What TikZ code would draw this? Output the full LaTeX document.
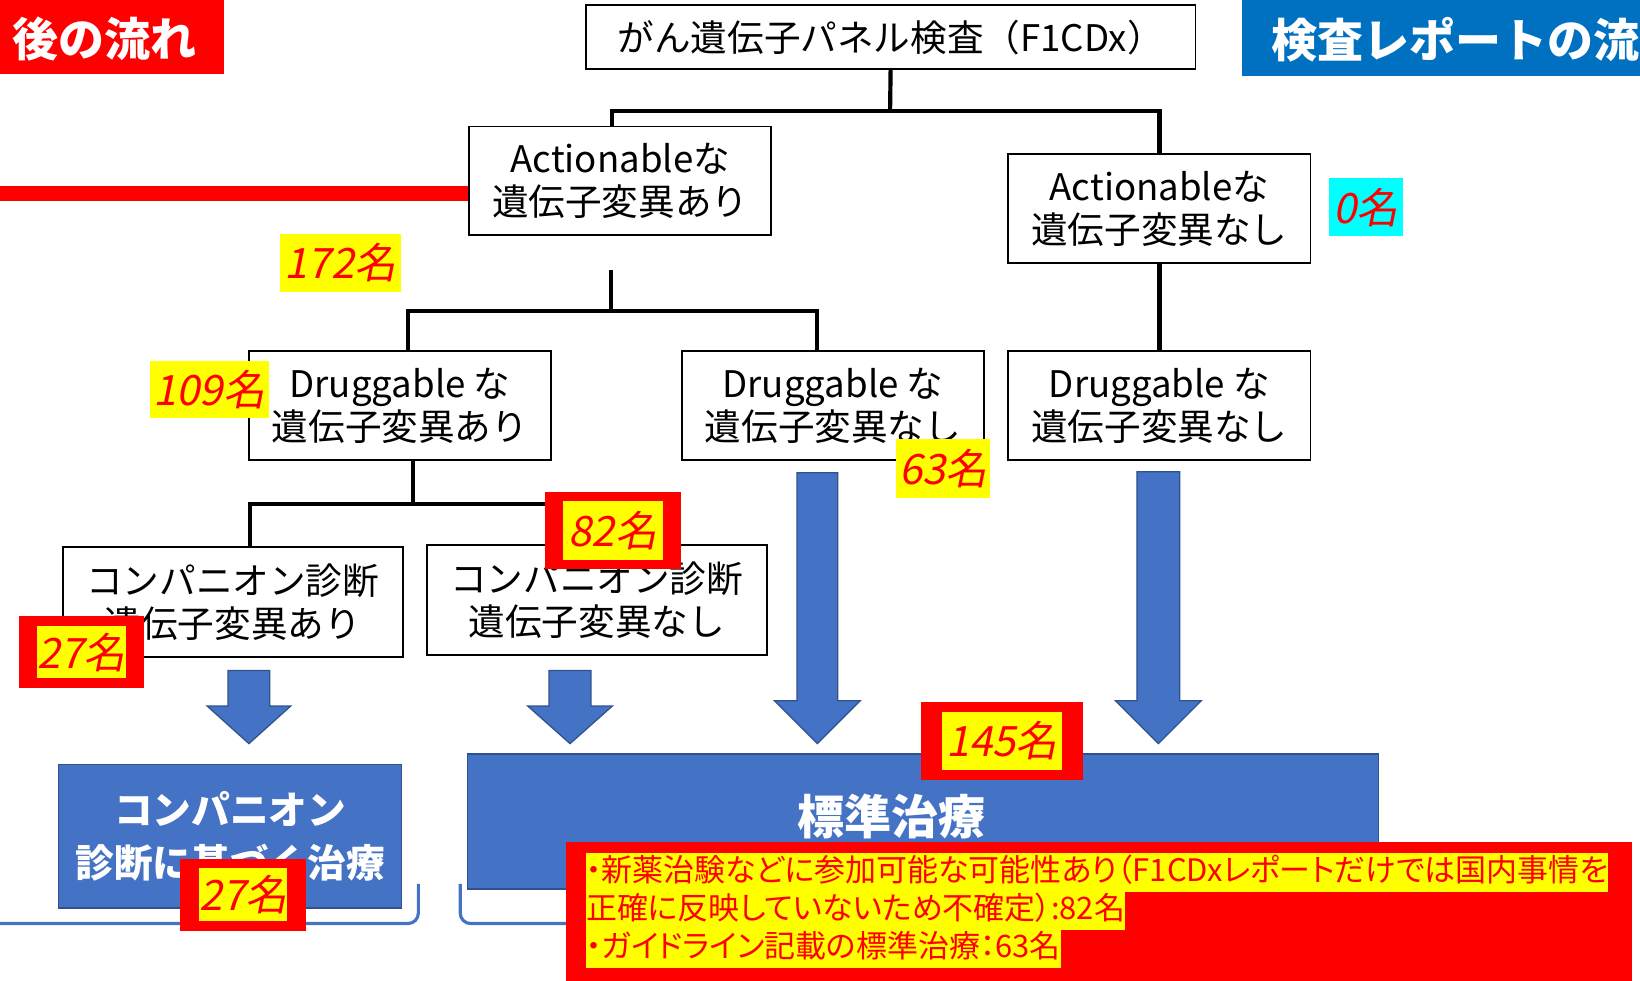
\documentclass[tikz,border=0pt]{standalone}
\usepackage{fontspec}
\setmainfont{Noto Sans CJK JP}
\newfontfamily\itf{Noto Sans CJK JP}[FakeSlant=0.2]
\newfontfamily\propf{Noto Sans CJK JP}[RawFeature=+palt]
\definecolor{bblue}{HTML}{4472C4}
\definecolor{bborder}{HTML}{2F528F}
\definecolor{tblue}{HTML}{0070C0}
\definecolor{pred}{RGB}{255,0,0}
\definecolor{pyel}{RGB}{255,255,0}
\definecolor{pcyan}{RGB}{0,255,255}
\newcommand{\blockarr}[6]{%
  \path[arrowshape] ({#1-#5},#2) -- ({#1+#5},#2) -- ({#1+#5},#3) -- ({#1+#6},#3) -- (#1,#4) -- ({#1-#6},#3) -- ({#1-#5},#3) -- cycle;}
\begin{document}
\begin{tikzpicture}[x=0.5pt,y=-0.5pt,
  box/.style={draw=black, line width=0.9pt, fill=white, minimum width=144.5pt, minimum height=52pt, align=center, inner sep=0pt, font=\fontsize{17.5}{20.5}\selectfont},
  tree/.style={line width=2pt},
  bluebox/.style={fill=bblue, draw=bborder, line width=0.8pt, inner sep=0pt},
  arrowshape/.style={fill=bblue, draw=bborder, line width=0.6pt},
  yel/.style={fill=pyel, text=pred, inner sep=0pt, font=\itf\fontsize{20}{20}\selectfont},
  redframe/.style={fill=pred, inner sep=0pt},
  hl/.style={fill=pyel, text=pred, inner xsep=0pt, inner ysep=0pt, text height=13.5pt, text depth=5pt, anchor=west, font=\propf\fontsize{14.8}{15}\selectfont},
  bracket/.style={draw=bblue, line width=1.5pt, rounded corners=5pt}
]
\useasboundingbox (0,0) rectangle (1568,937);

% titles
\node[fill=pred, minimum width=107pt, minimum height=35pt, anchor=north west, inner sep=0pt] (RT) at (0,0) {};
\node[text=white, font=\bfseries\fontsize{22}{22}\selectfont, anchor=east, inner sep=0pt] (RTt) at (188,37) {後の流れ};
\node[fill=tblue, minimum width=190.5pt, minimum height=36pt, anchor=north west, inner sep=0pt] (BT) at (1187,0) {};
\node[text=white, font=\bfseries\fontsize{22}{22}\selectfont, anchor=west, inner sep=0pt] (BTt) at (1215,38) {検査レポートの流れ};

% boxes
\node[box, minimum width=291.5pt, minimum height=30.5pt] (T) at (851.5,35.5) {がん遺伝子パネル検査（F1CDx）};
\node[box] (A1) at (593,173) {Actionableな\\遺伝子変異あり};
\node[box] (A2) at (1108.5,199.5) {Actionableな\\遺伝子変異なし};
\node[box] (D1) at (382.5,388) {Druggable な\\遺伝子変異あり};
\node[box] (D2) at (796.5,388) {Druggable な\\遺伝子変異なし};
\node[box] (D3) at (1108.5,388) {Druggable な\\遺伝子変異なし};
\node[box, minimum width=162.5pt, minimum height=52.5pt] (C1) at (222.5,575.5) {コンパニオン診断\\遺伝子変異あり};
\node[box, minimum width=162.5pt, minimum height=52.5pt] (C2) at (570.5,573.5) {コンパニオン診断\\遺伝子変異なし};

% tree
\coordinate (j1) at (851,106);
\draw[tree] (T.south) -- (j1);
\draw[tree] ([xshift=-4pt]A1.north) |- (j1) -| (A2.north);
\coordinate (j2a) at (584,258);
\coordinate (j2) at (584,297);
\draw[tree] (j2a) -- (j2);
\draw[tree] ([xshift=3.75pt]D1.north) |- (j2) -| ([xshift=-7.75pt]D2.north);
\draw[tree] (A2.south) -- (D3.north);
\coordinate (j3) at (395,482);
\draw[tree] ([xshift=6.25pt]D1.south) -- (j3);
\draw[tree] ([xshift=8.25pt]C1.north) |- (j3) -| (C2.north);

% red bar
\coordinate (rbend) at (0,185);
\draw[pred, line width=7.5pt] ([yshift=-6pt]A1.west) -- (rbend);

% block arrows
\blockarr{238}{641}{675}{711}{20}{40}
\blockarr{545}{641}{675}{711}{20}{40.5}
\blockarr{781.5}{452}{670}{711}{19.5}{41}
\blockarr{1107.5}{451}{670}{711}{20.5}{41}

% brackets
\draw[bracket] (0,883) -- (400,883) -- (400,845);
\draw[bracket] (440,845) -- (440,883) -- (600,883);

% blue boxes
\node[bluebox, minimum width=164pt, minimum height=68.5pt, align=center, text=white, font=\bfseries\fontsize{18.5}{25}\selectfont] (B1) at (220,799.5) {コンパニオン\\診断に基づく治療};
\node[bluebox, minimum width=435.5pt, minimum height=64.5pt] (B2) at (882.5,785.5) {};
\node[text=white, font=\bfseries\fontsize{22.5}{24}\selectfont, inner sep=0pt] (B2t) at (852,781) {標準治療};

% count labels
\node[yel, minimum width=57.5pt, minimum height=27.5pt] (n172) at (325.5,251.5) {172名};
\node[yel, minimum width=57pt, minimum height=27.5pt] (n109) at (200,372.5) {109名};
\node[yel, fill=pcyan, minimum width=35pt, minimum height=28pt] (n0) at (1306,198) {0名};
\node[yel, minimum width=45pt, minimum height=28pt] (n63) at (902,448) {63名};
\node[redframe, minimum width=60pt, minimum height=34.5pt] (f27a) at (78,623.5) {};
\node[yel, minimum width=41pt, minimum height=25pt] (n27a) at (f27a) {27名};
\node[redframe, minimum width=65pt, minimum height=37pt] (f82) at (586,507) {};
\node[yel, minimum width=47.5pt, minimum height=28pt] (n82) at (f82) {82名};
\node[redframe, minimum width=77pt, minimum height=37.5pt] (f145) at (958,708.5) {};
\node[yel, minimum width=57.5pt, minimum height=27.5pt] (n145) at (f145) {145名};
\node[redframe, minimum width=60.5pt, minimum height=34.5pt] (f27b) at (232.5,855.5) {};
\node[yel, minimum width=42pt, minimum height=25.5pt] (n27b) at (f27b) {27名};

% bottom note
\node[fill=pred, inner sep=0pt, minimum width=509.5pt, minimum height=70pt, anchor=north west] (RB) at (541,805) {};
\node[hl] (t1) at (560,834) {・新薬治験などに参加可能な可能性あり（F1CDxレポートだけでは国内事情を};
\node[hl] (t2) at (560,871) {正確に反映していないため不確定）:82名};
\node[hl] (t3) at (560,907) {・ガイドライン記載の標準治療：63名};
\end{tikzpicture}
\end{document}
